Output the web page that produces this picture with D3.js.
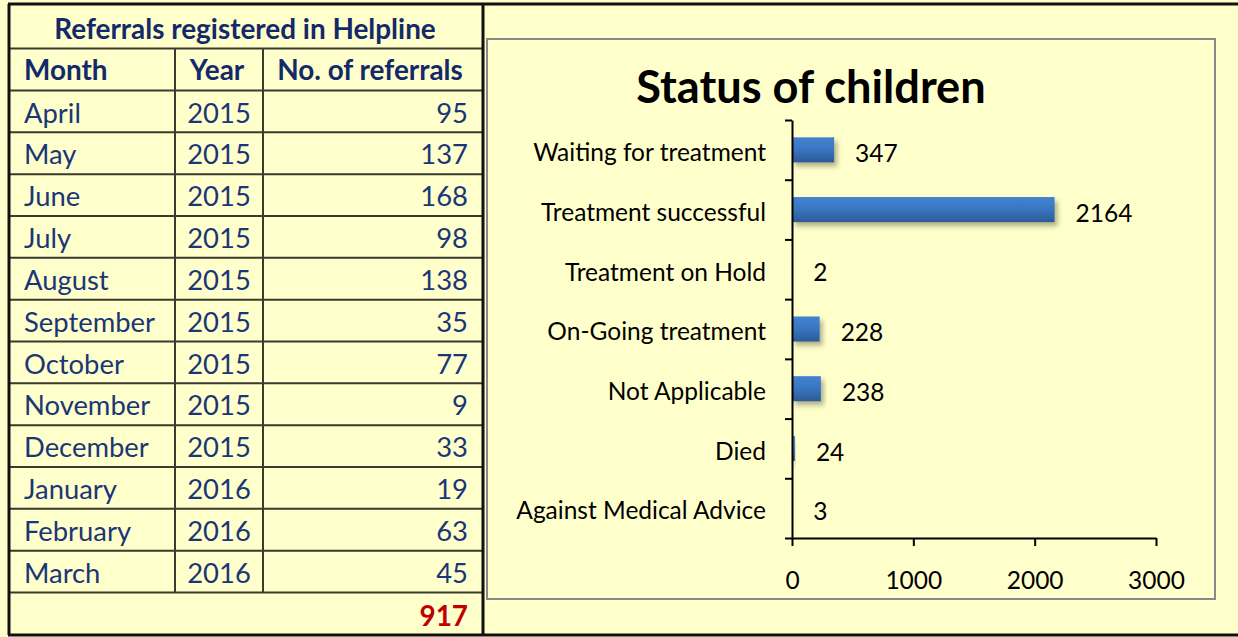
<!DOCTYPE html>
<html><head><meta charset="utf-8">
<script src="https://cdn.jsdelivr.net/npm/d3@7"></script>
<style>html,body{margin:0;padding:0;background:#ffffcc;} svg{display:block}</style>
</head><body>
<svg id="c" width="1238" height="637"></svg>
<script>
// ---- data ----
const tableTitle = "Referrals registered in Helpline";
const tableHeaders = ["Month", "Year", "No. of referrals"];
const months = ["April","May","June","July","August","September","October","November","December","January","February","March"];
const years = [2015,2015,2015,2015,2015,2015,2015,2015,2015,2016,2016,2016];
const referrals = [95,137,168,98,138,35,77,9,33,19,63,45];
const totalReferrals = 917;

const chartTitle = "Status of children";
const statusCategories = ["Waiting for treatment","Treatment successful","Treatment on Hold","On-Going treatment","Not Applicable","Died","Against Medical Advice"];
const statusValues = [347,2164,2,228,238,24,3];
const xTicks = [0,1000,2000,3000];

// ---- drawing ----
const svg = d3.select("#c");
const W = 1238, H = 637;
const FONT = "Lato, 'Open Sans', sans-serif";
const navyHead = "#13296a", navyText = "#1a3677";

svg.append("rect").attr("width", W).attr("height", H).attr("fill", "#ffffcc");

const defs = svg.append("defs");
const grad = defs.append("linearGradient").attr("id","barGrad").attr("x1",0).attr("y1",0).attr("x2",0).attr("y2",1);
grad.append("stop").attr("offset","0%").attr("stop-color","#4283d0");
grad.append("stop").attr("offset","45%").attr("stop-color","#3a77c2");
grad.append("stop").attr("offset","100%").attr("stop-color","#2c5b96");
const filt = defs.append("filter").attr("id","shadow").attr("x","-20%").attr("y","-50%").attr("width","140%").attr("height","220%");
filt.append("feDropShadow").attr("dx",3).attr("dy",4).attr("stdDeviation",2.5).attr("flood-color","#707050").attr("flood-opacity",0.55);

// ---- table ----
const tbl = {left: 9, right: 483, top: 4, bottom: 635, headBottom: 48.5, colHeadBottom: 90.5, rowsBottom: 592.5};
const colX = [tbl.left, 175, 263, tbl.right];
const rowY = d3.scaleBand().domain(months).range([tbl.colHeadBottom, tbl.rowsBottom]);
const g = svg.append("g");
const lineColor = "#3a3a2e";

const hLines = [tbl.headBottom, tbl.colHeadBottom].concat(months.map(m => rowY(m) + rowY.bandwidth()));
g.selectAll("line.h").data(hLines).join("line")
  .attr("x1", tbl.left).attr("x2", tbl.right).attr("y1", d => d).attr("y2", d => d)
  .attr("stroke", lineColor).attr("stroke-width", 2);
g.selectAll("line.v").data([colX[1], colX[2]]).join("line")
  .attr("x1", d => d).attr("x2", d => d).attr("y1", tbl.headBottom).attr("y2", tbl.rowsBottom)
  .attr("stroke", lineColor).attr("stroke-width", 2);

const tableFS = 27.4, tableBoldFS = 27.9;
g.append("text").text(tableTitle)
  .attr("x", (tbl.left + tbl.right) / 2 - 1).attr("y", (tbl.top + tbl.headBottom) / 2 + 3)
  .attr("text-anchor", "middle").attr("dy", "0.35em")
  .attr("font-family", FONT).attr("font-weight", "bold").attr("font-size", tableBoldFS).attr("fill", navyHead);

const hy = (tbl.headBottom + tbl.colHeadBottom) / 2 + 1;
const headPos = [{x: 24, a: "start"}, {x: (colX[1]+colX[2])/2 - 2, a: "middle"}, {x: (colX[2]+colX[3])/2 - 3, a: "middle"}];
g.selectAll("text.colh").data(tableHeaders).join("text")
  .text(d => d).attr("x", (d,i) => headPos[i].x).attr("y", hy).attr("dy","0.35em")
  .attr("text-anchor", (d,i) => headPos[i].a)
  .attr("font-family", FONT).attr("font-weight", "bold").attr("font-size", tableBoldFS).attr("fill", navyHead);

const rowsG = g.selectAll("g.row").data(months.map((m,i) => ({m, y: years[i], r: referrals[i]}))).join("g")
  .attr("transform", d => `translate(0,${rowY(d.m) + rowY.bandwidth()/2 + 1.5})`);
rowsG.append("text").text(d => d.m).attr("x", 24).attr("dy","0.35em");
rowsG.append("text").text(d => d.y).attr("x", (colX[1]+colX[2])/2).attr("text-anchor","middle").attr("dy","0.35em");
rowsG.append("text").text(d => d.r).attr("x", 468).attr("text-anchor","end").attr("dy","0.35em");
rowsG.selectAll("text").attr("font-family", FONT).attr("font-size", tableFS).attr("fill", navyText);

g.append("text").text(totalReferrals)
  .attr("x", 468).attr("y", (tbl.rowsBottom + tbl.bottom) / 2 + 2).attr("dy","0.35em").attr("text-anchor","end")
  .attr("font-family", FONT).attr("font-weight","bold").attr("font-size", tableBoldFS).attr("fill", "#c00000");

// outer borders
svg.append("line").attr("x1", tbl.left - 1).attr("x2", W).attr("y1", tbl.top).attr("y2", tbl.top).attr("stroke","#111").attr("stroke-width",3);
svg.append("line").attr("x1", tbl.left - 1).attr("x2", W).attr("y1", tbl.bottom).attr("y2", tbl.bottom).attr("stroke","#111").attr("stroke-width",3);
svg.append("line").attr("x1", tbl.left).attr("x2", tbl.left).attr("y1", tbl.top).attr("y2", tbl.bottom).attr("stroke","#111").attr("stroke-width",3);
svg.append("line").attr("x1", tbl.right).attr("x2", tbl.right).attr("y1", tbl.top).attr("y2", tbl.bottom).attr("stroke","#111").attr("stroke-width",3);

// ---- chart ----
svg.append("rect").attr("x", 487).attr("y", 39).attr("width", 1215 - 487).attr("height", 599 - 39)
  .attr("fill", "#ffffcc").attr("stroke", "#8a8a8a").attr("stroke-width", 2);

svg.append("text").text(chartTitle).attr("x", 811).attr("y", 103).attr("text-anchor","middle")
  .attr("font-family", FONT).attr("font-weight","bold").attr("font-size", 45.2).attr("fill","#000");

const plot = {left: 792, right: 1156, top: 120, bottom: 538};
const x = d3.scaleLinear().domain([xTicks[0], xTicks[xTicks.length-1]]).range([plot.left, plot.right]);
const y = d3.scaleBand().domain(statusCategories).range([plot.top, plot.bottom]);
const barH = y.bandwidth() * 0.42;
const chartFS = 24.5;
const labelShift = 3.5;

svg.append("g").selectAll("rect").data(statusCategories.map((c,i) => ({c, v: statusValues[i]}))).join("rect")
  .attr("x", x(0)).attr("y", d => y(d.c) + (y.bandwidth() - barH)/2)
  .attr("width", d => x(d.v) - x(0)).attr("height", barH)
  .attr("fill", "url(#barGrad)").attr("filter", "url(#shadow)");

svg.append("g").selectAll("text").data(statusCategories.map((c,i) => ({c, v: statusValues[i]}))).join("text")
  .text(d => d.v).attr("x", d => x(d.v) + 21).attr("y", d => y(d.c) + y.bandwidth()/2 + labelShift).attr("dy","0.35em")
  .attr("font-family", FONT).attr("font-size", chartFS).attr("fill","#000");

const yBound = d3.scaleLinear().domain([0, statusCategories.length]).range([plot.top, plot.bottom]);
const yAxisG = svg.append("g").attr("transform", `translate(${plot.left},0)`)
  .call(d3.axisLeft(yBound).tickValues(d3.range(statusCategories.length + 1)).tickSize(7).tickSizeOuter(0).tickFormat(""));
yAxisG.selectAll("line,path").attr("stroke","#000").attr("stroke-width",2);

const yLab = svg.append("g").attr("transform", `translate(${plot.left},${labelShift})`)
  .call(d3.axisLeft(y).tickSize(0).tickPadding(26));
yLab.select(".domain").remove();
yLab.selectAll("text").attr("font-family", FONT).attr("font-size", chartFS).attr("fill","#000");

const xAxisG = svg.append("g").attr("transform", `translate(0,${plot.bottom})`)
  .call(d3.axisBottom(x).tickValues(xTicks).tickSize(8).tickSizeOuter(0).tickPadding(26).tickFormat(d3.format("d")));
xAxisG.selectAll("line,path").attr("stroke","#000").attr("stroke-width",2);
xAxisG.selectAll("text").attr("font-family", FONT).attr("font-size", chartFS).attr("fill","#000");
</script>
</body></html>
